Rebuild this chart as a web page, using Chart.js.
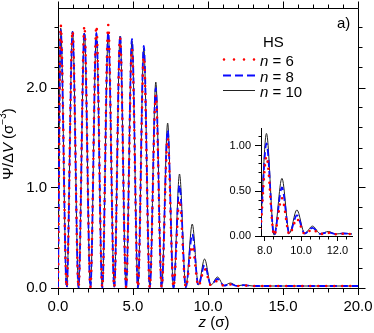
<!DOCTYPE html>
<html>
<head>
<meta charset="utf-8">
<script src="https://cdn.jsdelivr.net/npm/chart.js@4.4.0/dist/chart.umd.min.js"></script>
<style>
  body { margin: 0; background: #fff; }
  #wrap { position: relative; width: 374px; height: 333px; }
  #main { position: absolute; left: 0; top: 0; }
  #inset { position: absolute; left: 215px; top: 115px; }
</style>
</head>
<body>
<div id="wrap">
  <canvas id="main" width="374" height="333"></canvas>
  <canvas id="inset" width="150" height="140"></canvas>
</div>
<script>
// z positions (sigma) of the peaks and minima
var zPts = [0.00, 0.18, 0.58, 0.97, 1.37, 1.76, 2.16, 2.56, 2.95, 3.35, 3.75, 4.14, 4.54, 4.93, 5.33, 5.72,
            6.12, 6.52, 6.91, 7.31, 7.70, 8.10, 8.52, 8.95, 9.36, 9.77, 10.20, 10.63, 11.06, 11.50, 11.92, 12.35,
            13.0, 14.0, 16.0, 18.0, 20.0];

var psiN6 = [0.00, 2.63, 0.01, 2.57, 0.01, 2.62, 0.01, 2.62, 0.01, 2.63, 0.01, 2.50, 0.01, 2.39, 0.01, 2.31,
             0.01, 1.93, 0.01, 1.50, 0.01, 0.88, 0.01, 0.42, 0.02, 0.19, 0.025, 0.07, 0.022, 0.035, 0.02, 0.025,
             0.02, 0.02, 0.02, 0.02, 0.02];

var psiN8 = [0.00, 2.58, 0.00, 2.56, 0.00, 2.56, 0.00, 2.55, 0.00, 2.56, 0.00, 2.52, 0.00, 2.49, 0.00, 2.42,
             0.00, 2.00, 0.00, 1.58, 0.00, 1.03, 0.005, 0.54, 0.025, 0.23, 0.028, 0.09, 0.024, 0.04, 0.021, 0.028,
             0.02, 0.02, 0.02, 0.02, 0.02];

var psiN10 = [0.00, 2.60, 0.01, 2.57, 0.01, 2.55, 0.01, 2.53, 0.01, 2.54, 0.01, 2.52, 0.01, 2.47, 0.01, 2.40,
              0.01, 2.06, 0.01, 1.65, 0.01, 1.14, 0.01, 0.64, 0.03, 0.29, 0.03, 0.11, 0.025, 0.05, 0.022, 0.03,
              0.02, 0.02, 0.02, 0.02, 0.02];

var seriesLabels = ["6", "8", "10"];

var xMajor = [0, 5, 10, 15, 20];
var xMinor = [1, 2, 3, 4, 6, 7, 8, 9, 11, 12, 13, 14, 16, 17, 18, 19];
var yMajor = [0, 1, 2];
var yMinor = [0.2, 0.4, 0.6, 0.8, 1.2, 1.4, 1.6, 1.8, 2.2, 2.4, 2.6];

var insetXMajor = [8, 10, 12];
var insetXMinor = [8.5, 9, 9.5, 10.5, 11, 11.5, 12.5];
var insetYMajor = [0, 0.5, 1.0];
var insetYMinor = [0.1, 0.2, 0.3, 0.4, 0.6, 0.7, 0.8, 0.9, 1.1];

var FONT = '"Liberation Sans", Arial, sans-serif';

function series(vals) {
    return zPts.map(function(z, i) { return { x: z, y: vals[i] }; });
}

function makeDatasets(dotGap) {
    return [{
        label: "n = 6",
        data: series(psiN6),
        borderColor: "#ff0000",
        borderWidth: 2.6,
        borderDash: [0, dotGap],
        borderCapStyle: "round",
        pointRadius: 0,
        cubicInterpolationMode: "monotone",
        fill: false
    }, {
        label: "n = 8",
        data: series(psiN8),
        borderColor: "#0a0aff",
        borderWidth: 1.8,
        borderDash: [7, 4],
        pointRadius: 0,
        cubicInterpolationMode: "monotone",
        fill: false
    }, {
        label: "n = 10",
        data: series(psiN10),
        borderColor: "#222",
        borderWidth: 1,
        pointRadius: 0,
        cubicInterpolationMode: "monotone",
        fill: false
    }];
}

function align(p) {
    return Math.round(p - 0.5) + 0.5;
}

// minor ticks, mirrored top/right axes, titles, legend
var mainDecor = {
    id: "mainDecor",
    afterDraw: function(chart) {
        var ctx = chart.ctx, a = chart.chartArea;
        var xs = chart.scales.x, ys = chart.scales.y;
        var L = align(a.left), R = align(a.right), T = align(a.top), B = align(a.bottom);
        ctx.save();
        ctx.strokeStyle = "#000";
        ctx.lineWidth = 1;
        ctx.beginPath();
        ctx.moveTo(L, T); ctx.lineTo(R, T);
        ctx.moveTo(R, T); ctx.lineTo(R, B);
        xMinor.forEach(function(v) {
            var px = align(xs.getPixelForValue(v));
            ctx.moveTo(px, B); ctx.lineTo(px, B + 4);
            ctx.moveTo(px, T); ctx.lineTo(px, T - 4);
        });
        xMajor.forEach(function(v) {
            var px = align(xs.getPixelForValue(v));
            ctx.moveTo(px, T); ctx.lineTo(px, T - 7);
        });
        yMinor.forEach(function(v) {
            var py = align(ys.getPixelForValue(v));
            ctx.moveTo(L, py); ctx.lineTo(L - 4, py);
            ctx.moveTo(R, py); ctx.lineTo(R + 4, py);
        });
        yMajor.forEach(function(v) {
            var py = align(ys.getPixelForValue(v));
            ctx.moveTo(R, py); ctx.lineTo(R + 7, py);
        });
        ctx.stroke();

        ctx.fillStyle = "#000";
        ctx.textBaseline = "alphabetic";

        // x title: z (σ)
        ctx.font = "italic 15px " + FONT;
        var w1 = ctx.measureText("z").width;
        ctx.font = "15px " + FONT;
        var w2 = ctx.measureText(" (σ)").width;
        var x0 = 214 - (w1 + w2) / 2;
        ctx.font = "italic 15px " + FONT;
        ctx.fillText("z", x0, 327);
        ctx.font = "15px " + FONT;
        ctx.fillText(" (σ)", x0 + w1, 327);

        // y title: Ψ̄/ΔV (σ-3)
        ctx.save();
        ctx.translate(13, 144);
        ctx.rotate(-Math.PI / 2);
        var parts = [
            { t: "Ψ", f: "15px " + FONT, dy: 0, bar: true },
            { t: "/Δ", f: "15px " + FONT, dy: 0 },
            { t: "V", f: "italic 15px " + FONT, dy: 0 },
            { t: " (σ", f: "15px " + FONT, dy: 0 },
            { t: "−3", f: "10px " + FONT, dy: -7 },
            { t: ")", f: "15px " + FONT, dy: 0 }
        ];
        var total = 0;
        parts.forEach(function(p) { ctx.font = p.f; p.w = ctx.measureText(p.t).width; total += p.w; });
        var cx = -total / 2;
        parts.forEach(function(p) {
            ctx.font = p.f;
            ctx.fillText(p.t, cx, p.dy);
            if (p.bar) {
                ctx.beginPath();
                ctx.moveTo(cx + 1, -13.5); ctx.lineTo(cx + p.w - 1, -13.5);
                ctx.stroke();
            }
            cx += p.w;
        });
        ctx.restore();

        // panel tag
        ctx.font = "15px " + FONT;
        ctx.fillText("a)", 337, 28);

        // legend
        ctx.fillText("HS", 263, 47);
        var rows = [66, 82, 97];
        var styles = chart.data.datasets;
        rows.forEach(function(by, i) {
            var ds = styles[i];
            ctx.save();
            ctx.strokeStyle = ds.borderColor;
            ctx.lineWidth = ds.borderWidth;
            ctx.lineCap = i === 0 ? "round" : "butt";
            ctx.setLineDash(i === 0 ? [0, 10] : (i === 1 ? [8, 4] : []));
            ctx.beginPath();
            ctx.moveTo(i === 0 ? 224 : 223, by - 6.5);
            ctx.lineTo(255, by - 6.5);
            ctx.stroke();
            ctx.restore();
            ctx.font = "italic 15px " + FONT;
            ctx.fillText("n", 260, by);
            var nw = ctx.measureText("n").width;
            ctx.font = "15px " + FONT;
            ctx.fillText(" = " + seriesLabels[i], 260 + nw, by);
        });
        ctx.restore();
    }
};

var insetDecor = {
    id: "insetDecor",
    afterDraw: function(chart) {
        var ctx = chart.ctx, a = chart.chartArea;
        var xs = chart.scales.x, ys = chart.scales.y;
        var L = align(a.left), B = align(a.bottom);
        ctx.save();
        ctx.strokeStyle = "#000";
        ctx.lineWidth = 1;
        ctx.beginPath();
        insetXMinor.forEach(function(v) {
            var px = align(xs.getPixelForValue(v));
            ctx.moveTo(px, B); ctx.lineTo(px, B + 3);
        });
        insetYMinor.forEach(function(v) {
            var py = align(ys.getPixelForValue(v));
            ctx.moveTo(L, py); ctx.lineTo(L - 3, py);
        });
        ctx.stroke();
        ctx.restore();
    }
};

function createMain() {
    var ctx = document.getElementById("main").getContext("2d");
    new Chart(ctx, {
        type: "line",
        data: { datasets: makeDatasets(8) },
        options: {
            responsive: false,
            animation: false,
            devicePixelRatio: 1,
            layout: { padding: { left: 0, right: 16, top: 8, bottom: 0 } },
            plugins: { legend: { display: false }, tooltip: { enabled: false } },
            scales: {
                x: {
                    type: "linear", min: 0, max: 20,
                    border: { color: "#000", width: 1 },
                    grid: { drawOnChartArea: false, tickLength: 7, color: "#000" },
                    ticks: {
                        padding: 3, color: "#000", maxRotation: 0, autoSkip: false,
                        font: { family: FONT, size: 15 },
                        callback: function(v) { return v.toFixed(1); }
                    },
                    afterBuildTicks: function(s) { s.ticks = xMajor.map(function(v) { return { value: v }; }); },
                    afterFit: function(s) { s.height = 45; s.paddingLeft = 0; s.paddingRight = 0; }
                },
                y: {
                    type: "linear", min: 0, max: 2.8,
                    border: { color: "#000", width: 1 },
                    grid: { drawOnChartArea: false, tickLength: 7, color: "#000" },
                    ticks: {
                        padding: 4, color: "#000", autoSkip: false,
                        font: { family: FONT, size: 15 },
                        callback: function(v) { return v.toFixed(1); }
                    },
                    afterBuildTicks: function(s) { s.ticks = yMajor.map(function(v) { return { value: v }; }); },
                    afterFit: function(s) { s.width = 58; s.paddingTop = 0; s.paddingBottom = 0; }
                }
            }
        },
        plugins: [mainDecor]
    });
}

function createInset() {
    var ctx = document.getElementById("inset").getContext("2d");
    new Chart(ctx, {
        type: "line",
        data: { datasets: makeDatasets(7) },
        options: {
            responsive: false,
            animation: false,
            devicePixelRatio: 1,
            layout: { padding: { left: 0, right: 13, top: 13, bottom: 0 } },
            plugins: { legend: { display: false }, tooltip: { enabled: false } },
            scales: {
                x: {
                    type: "linear", min: 7.8, max: 12.8,
                    border: { color: "#000", width: 1 },
                    grid: { drawOnChartArea: false, tickLength: 5, color: "#000" },
                    ticks: {
                        padding: 3, color: "#000", maxRotation: 0, autoSkip: false,
                        font: { family: FONT, size: 11 },
                        callback: function(v) { return v.toFixed(1); }
                    },
                    afterBuildTicks: function(s) { s.ticks = insetXMajor.map(function(v) { return { value: v }; }); },
                    afterFit: function(s) { s.height = 19; s.paddingLeft = 0; s.paddingRight = 0; }
                },
                y: {
                    type: "linear", min: 0, max: 1.2,
                    border: { color: "#000", width: 1 },
                    grid: { drawOnChartArea: false, tickLength: 6, color: "#000" },
                    ticks: {
                        padding: 4, color: "#000", autoSkip: false,
                        font: { family: FONT, size: 11 },
                        callback: function(v) { return v.toFixed(2); }
                    },
                    afterBuildTicks: function(s) { s.ticks = insetYMajor.map(function(v) { return { value: v }; }); },
                    afterFit: function(s) { s.width = 46; s.paddingTop = 0; s.paddingBottom = 0; }
                }
            }
        },
        plugins: [insetDecor]
    });
}

createMain();
createInset();
</script>
</body>
</html>
